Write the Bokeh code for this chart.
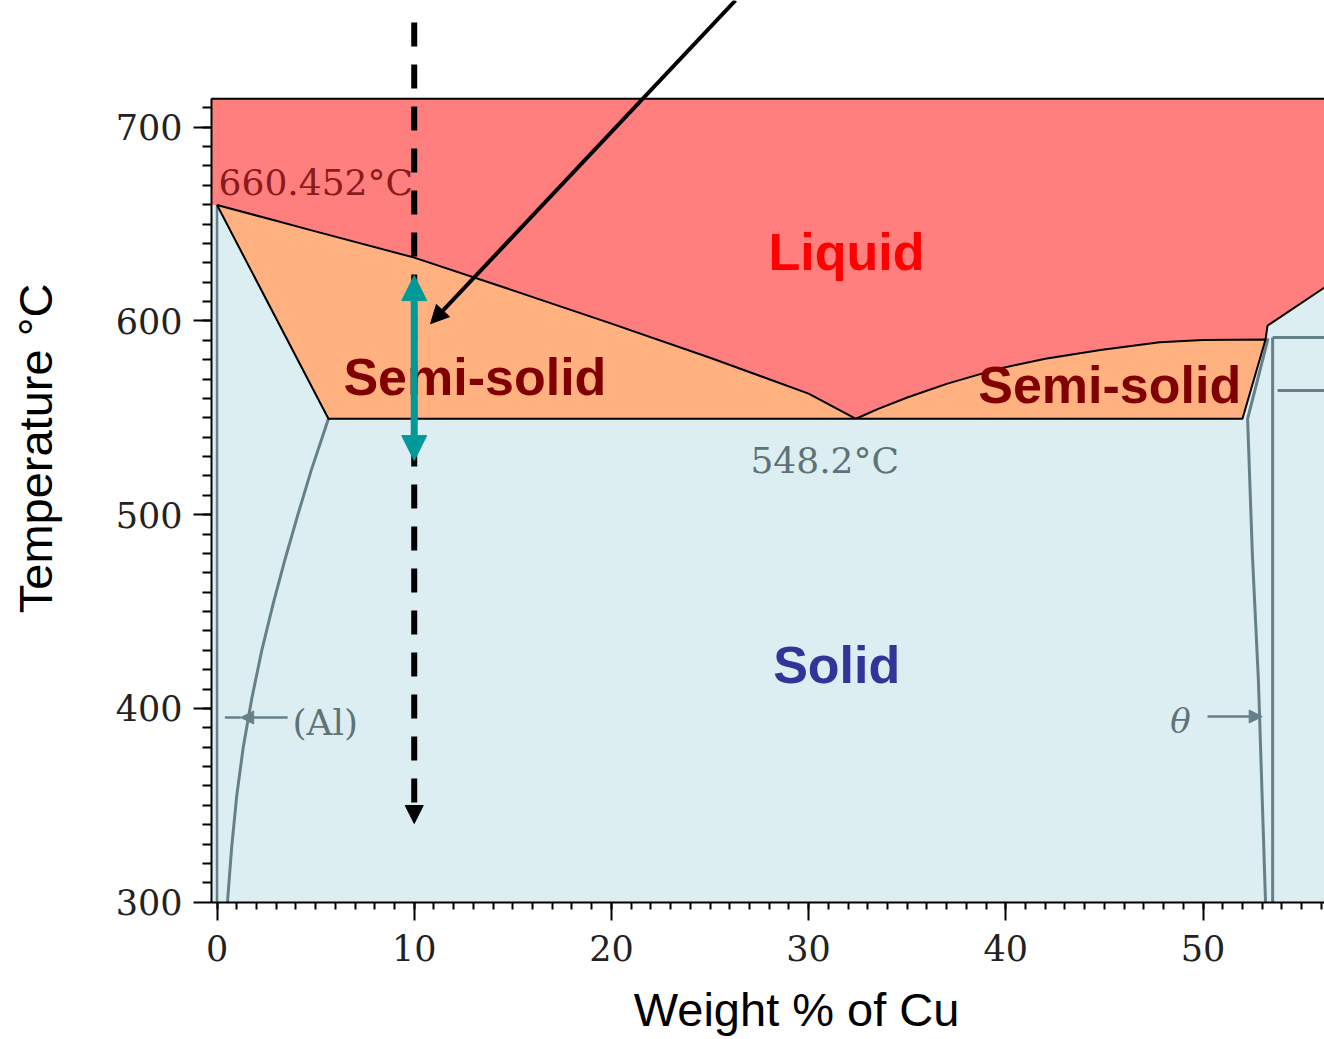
import math
from bokeh.plotting import figure
from bokeh.models import Range1d, FixedTicker, Label, Arrow, NormalHead
from bokeh.embed import file_html
from bokeh.resources import INLINE

# ---------------- data ----------------
# left liquidus: (Al) side, from Al melting point down to eutectic
liq_left_x = [0.0, 2.9, 4.7, 10.0, 15.0, 20.0, 25.0, 30.0, 32.4]
liq_left_y = [659.8, 652.0, 647.0, 632.7, 615.8, 598.6, 581.0, 562.5, 549.5]
# right liquidus: eutectic up to theta peritectic
liq_right_x = [32.4, 33.5, 35.0, 37.0, 39.7, 42.0, 44.8, 47.8, 50.0, 53.17]
liq_right_y = [549.5, 554.5, 560.5, 567.5, 575.5, 580.5, 585.0, 589.0, 590.2, 590.4]
# liquidus continuation beyond theta
liq_theta_x = [53.17, 53.27, 56.2]
liq_theta_y = [590.4, 597.6, 617.5]
eutectic_T = 549.5
eutectic_left_x = 5.65
eutectic_right_x = 52.0
# (Al) solvus
solvus_x = [5.65, 4.78, 4.1, 3.45, 2.87, 2.27, 1.76, 1.33, 1.0, 0.74, 0.53]
solvus_y = [549.5, 523.0, 500.0, 477.0, 455.0, 430.0, 405.0, 380.0, 355.0, 328.0, 300.0]
# theta phase boundaries
theta_left_x = [53.3, 52.26, 52.5, 52.81, 53.17]
theta_left_y = [591.0, 549.5, 480.0, 414.0, 300.0]
theta_right_x = [53.53, 53.53]
theta_right_y = [591.5, 300.0]
iso_T = [591.5, 564.1]
iso_x0 = [53.53, 53.78]
# axis ticks
x_ticks = [0, 10, 20, 30, 40, 50]
x_minor = list(range(0, 57))
y_ticks = [300, 400, 500, 600, 700]
y_minor = list(range(310, 720, 10))
x_title = "Weight % of Cu"
y_title = "Temperature °C"
# annotation values
alloy_x = 10.0
cool_start_T, cool_end_T = 754.0, 340.6
mush_top_T, mush_bottom_T = 623.4, 527.9
pointer_x0, pointer_y0, pointer_x1, pointer_y1 = 26.29, 765.4, 10.83, 598.6
al_melt_label = "660.452°C"
eutectic_label = "548.2°C"

# ---------------- layout ----------------
# the frame covers the whole canvas; axes are pinned at the diagram edges
diag_left, diag_right = -0.28, 56.16
diag_bottom, diag_top = 300.0, 714.7
x_lo, x_hi = -10.98, 56.16
y_lo, y_hi = 229.1, 765.4

RED = "#FF7F7F"
ORANGE = "#FFB27F"
BLUE = "#DDEEF2"
GRAY = "#66808A"

p = figure(width=1324, height=1039, x_range=Range1d(x_lo, x_hi), y_range=Range1d(y_lo, y_hi),
           output_backend="svg", toolbar_location=None,
           min_border_left=0, min_border_right=0, min_border_top=0, min_border_bottom=0)
p.outline_line_color = None
p.xgrid.visible = False
p.ygrid.visible = False
p.background_fill_color = "white"
p.border_fill_color = "white"

# solid region background
p.quad(left=[diag_left], right=[diag_right], bottom=[diag_bottom], top=[diag_top],
       fill_color=BLUE, line_color=None)

# gray phase lines
p.line([0, 0], [diag_bottom, liq_left_y[0]], line_color=GRAY, line_width=2.5)
p.line(solvus_x, solvus_y, line_color=GRAY, line_width=3)
p.line(theta_left_x, theta_left_y, line_color=GRAY, line_width=3)
p.line(theta_right_x, theta_right_y, line_color=GRAY, line_width=3)
for t, x0 in zip(iso_T, iso_x0):
    p.line([x0, diag_right], [t, t], line_color=GRAY, line_width=3)

# liquid region
lx = [diag_left, diag_left] + liq_left_x + liq_right_x[1:] + liq_theta_x[1:] + [diag_right]
ly = [diag_top, liq_left_y[0]] + liq_left_y + liq_right_y[1:] + liq_theta_y[1:] + [diag_top]
p.patch(lx, ly, fill_color=RED, line_color=None)

# semi-solid regions
p.patch(liq_left_x + [eutectic_left_x], liq_left_y + [eutectic_T],
        fill_color=ORANGE, line_color="black", line_width=2)
p.patch(liq_right_x + [eutectic_right_x], liq_right_y + [eutectic_T],
        fill_color=ORANGE, line_color="black", line_width=2)
p.line(liq_theta_x, liq_theta_y, line_color="black", line_width=2)

# top border of diagram
p.line([diag_left, diag_right], [diag_top, diag_top], line_color="black", line_width=2)

# axes pinned to the diagram edges
p.xaxis.fixed_location = diag_bottom
p.yaxis.fixed_location = diag_left
p.xaxis.ticker = FixedTicker(ticks=x_ticks, minor_ticks=x_minor)
p.yaxis.ticker = FixedTicker(ticks=y_ticks, minor_ticks=y_minor)
p.xaxis.bounds = (diag_left, diag_right)
p.yaxis.bounds = (diag_bottom, diag_top)
for ax in (p.xaxis[0], p.yaxis[0]):
    ax.axis_line_color = "black"
    ax.axis_line_width = 2
    ax.major_tick_line_color = "black"
    ax.major_tick_line_width = 2
    ax.minor_tick_line_color = "black"
    ax.minor_tick_line_width = 2
    ax.major_tick_in = 0
    ax.major_tick_out = 18
    ax.minor_tick_in = 0
    ax.major_label_text_font = "DejaVu Serif"
    ax.major_label_text_font_size = "35px"
    ax.major_label_text_color = "#222222"
p.xaxis.minor_tick_out = 7
p.yaxis.minor_tick_out = 9
p.xaxis.major_label_standoff = 15
p.yaxis.major_label_standoff = 11

# axis titles
p.add_layout(Label(x=29.39, y=244.6, text=x_title, text_font="Liberation Sans", text_font_size="47px",
                   text_color="black", text_align="center", text_baseline="middle"))
p.add_layout(Label(x=-9.2, y=534.2, text=y_title, text_font="Liberation Sans", text_font_size="47px",
                   text_color="black", text_align="center", text_baseline="middle", angle=math.pi / 2))

# region labels
def big(x, y, text, color, align="left"):
    p.add_layout(Label(x=x, y=y, text=text, text_font="Liberation Sans", text_font_size="52px",
                       text_font_style="bold", text_color=color, text_align=align,
                       text_baseline="middle"))

big(31.92, 635.4, "Liquid", "#FF0000", "center")
big(6.41, 570.9, "Semi-solid", "#800000")
big(38.6, 566.7, "Semi-solid", "#800000")
big(28.2, 422.3, "Solid", "#333399")

# diagram texts
def small(x, y, text, color, style="normal", align="left", size="36px"):
    p.add_layout(Label(x=x, y=y, text=text, text_font="DejaVu Serif", text_font_size=size,
                       text_font_style=style, text_color=color, text_align=align,
                       text_baseline="middle"))

small(0.08, 671.3, al_melt_label, "#8B1A1A")
small(27.05, 527.8, eutectic_label, "#5F7377")
small(3.83, 392.9, "(Al)", "#5F7377")
small(48.86, 393.4, "θ", "#5F7377", style="italic", align="center", size="34px")

# gray pointer arrows
p.add_layout(Arrow(end=NormalHead(size=13, fill_color=GRAY, line_color=GRAY),
                   x_start=3.58, y_start=395.3, x_end=1.2, y_end=395.3, line_color=GRAY, line_width=2.5))
p.line([1.2, 0.4], [395.3, 395.3], line_color=GRAY, line_width=2.5)
p.add_layout(Arrow(end=NormalHead(size=13, fill_color=GRAY, line_color=GRAY),
                   x_start=50.23, y_start=395.8, x_end=53.0, y_end=395.8, line_color=GRAY, line_width=2.5))

# cooling path (dashed)
p.add_layout(Arrow(end=NormalHead(size=18, fill_color="black", line_color="black"),
                   x_start=alloy_x, y_start=cool_start_T, x_end=alloy_x, y_end=cool_end_T,
                   line_color="black", line_width=6, line_dash="24 18"))
# semi-solid range (teal double arrow)
TEAL = "#009999"
p.add_layout(Arrow(start=NormalHead(size=25, fill_color=TEAL, line_color=TEAL),
                   end=NormalHead(size=25, fill_color=TEAL, line_color=TEAL),
                   x_start=alloy_x, y_start=mush_top_T, x_end=alloy_x, y_end=mush_bottom_T,
                   line_color=TEAL, line_width=7))
# pointer arrow
p.add_layout(Arrow(end=NormalHead(size=18, fill_color="black", line_color="black"),
                   x_start=pointer_x0, y_start=pointer_y0, x_end=pointer_x1, y_end=pointer_y1,
                   line_color="black", line_width=4))

open("out.html", "w").write(file_html(p, INLINE))
